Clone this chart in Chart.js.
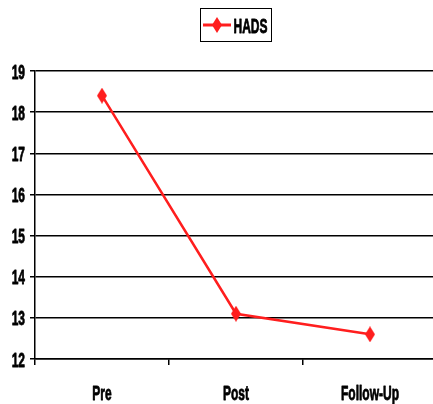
<!DOCTYPE html>
<html>
<head>
<meta charset="utf-8">
<script src="https://cdn.jsdelivr.net/npm/chart.js@4/dist/chart.umd.min.js"></script>
<style>
  html, body { margin: 0; padding: 0; background: #fff; overflow: hidden; }
  #wrap { position: relative; width: 437px; height: 404px; }
  canvas { display: block; }
</style>
</head>
<body>
<div id="wrap"><canvas id="chart" width="437" height="404"></canvas></div>
<script>
// Mean HADS score at each assessment point
const categories = ['Pre', 'Post', 'Follow-Up'];
const seriesName = 'HADS';
const hadsValues = [18.4, 13.1, 12.6];
const yTicks = [12, 13, 14, 15, 16, 17, 18, 19];

const RED = 'rgb(255, 30, 30)';
const FONT = 'bold 20px "Liberation Sans", Arial, sans-serif';
const SQUEEZE = 0.6; // horizontal compression for the narrow label face

// Tall diamond marker
function makeDiamond(w, h, color) {
  const c = document.createElement('canvas');
  c.width = w; c.height = h;
  const g = c.getContext('2d');
  g.fillStyle = color;
  g.beginPath();
  g.moveTo(w / 2, 0);
  g.lineTo(w, h / 2);
  g.lineTo(w / 2, h);
  g.lineTo(0, h / 2);
  g.closePath();
  g.fill();
  return c;
}
const diamond = makeDiamond(10, 16, RED);

function narrowText(ctx, text, x, y, align) {
  ctx.save();
  ctx.translate(x, y);
  ctx.scale(SQUEEZE, 1);
  ctx.font = FONT;
  ctx.fillStyle = '#000';
  ctx.strokeStyle = '#000';
  ctx.lineWidth = 0.8;
  ctx.lineJoin = 'round';
  ctx.textAlign = align;
  ctx.textBaseline = 'alphabetic';
  ctx.fillText(text, 0, 0);
  ctx.strokeText(text, 0, 0);
  ctx.restore();
}

// Axis labels in a condensed bold face
const narrowLabels = {
  id: 'narrowLabels',
  afterDraw(chart) {
    const ctx = chart.ctx;
    const xs = chart.scales.x, ys = chart.scales.y;
    xs.ticks.forEach((t, i) => {
      narrowText(ctx, xs.getLabelForValue(t.value), xs.getPixelForTick(i), 400, 'center');
    });
    ys.ticks.forEach(t => {
      narrowText(ctx, String(t.value), 25, ys.getPixelForValue(t.value) + 7.5, 'right');
    });
  }
};

// Boxed legend in the top centre
const boxedLegend = {
  id: 'boxedLegend',
  afterDraw(chart) {
    const ctx = chart.ctx;
    const ds = chart.data.datasets[0];
    ctx.save();
    const x = 200.5, y = 8.5, w = 71, h = 33;
    ctx.strokeStyle = '#000';
    ctx.lineWidth = 1;
    ctx.strokeRect(x, y, w, h);
    const cy = 25;
    ctx.strokeStyle = ds.borderColor;
    ctx.lineWidth = 3;
    ctx.beginPath();
    ctx.moveTo(203, cy);
    ctx.lineTo(231, cy);
    ctx.stroke();
    ctx.drawImage(diamond, 217 - 5, cy - 8);
    ctx.restore();
    narrowText(ctx, ds.label, 233.5, 33, 'left');
  }
};

new Chart(document.getElementById('chart'), {
  type: 'line',
  data: {
    labels: categories,
    datasets: [{
      label: seriesName,
      data: hadsValues,
      borderColor: RED,
      backgroundColor: RED,
      borderWidth: 2.5,
      pointStyle: diamond,
      pointRadius: 8,
      tension: 0,
      fill: false
    }]
  },
  options: {
    responsive: false,
    animation: false,
    devicePixelRatio: 1,
    layout: { autoPadding: false, padding: { top: 71, right: 0, bottom: 0, left: 0 } },
    plugins: {
      legend: { display: false },
      tooltip: { enabled: false }
    },
    scales: {
      x: {
        offset: true,
        afterFit(scale) {
          scale.height = 45;
          scale.paddingLeft = 0;
          scale.paddingRight = 0;
        },
        border: { display: true, color: '#000', width: 1.5 },
        grid: {
          offset: true,
          drawOnChartArea: false,
          drawTicks: true,
          tickLength: 6,
          color: '#000',
          lineWidth: 1.5
        },
        ticks: { display: false }
      },
      y: {
        min: 12,
        max: 19,
        afterFit(scale) {
          scale.width = 35;
          scale.paddingTop = 0;
          scale.paddingBottom = 0;
        },
        afterBuildTicks(scale) { scale.ticks = yTicks.map(v => ({ value: v })); },
        border: { display: true, color: '#000', width: 1.5 },
        grid: {
          color: '#000',
          lineWidth: 1.5,
          drawTicks: true,
          tickLength: 5
        },
        ticks: { display: false }
      }
    }
  },
  plugins: [narrowLabels, boxedLegend]
});
</script>
</body>
</html>
